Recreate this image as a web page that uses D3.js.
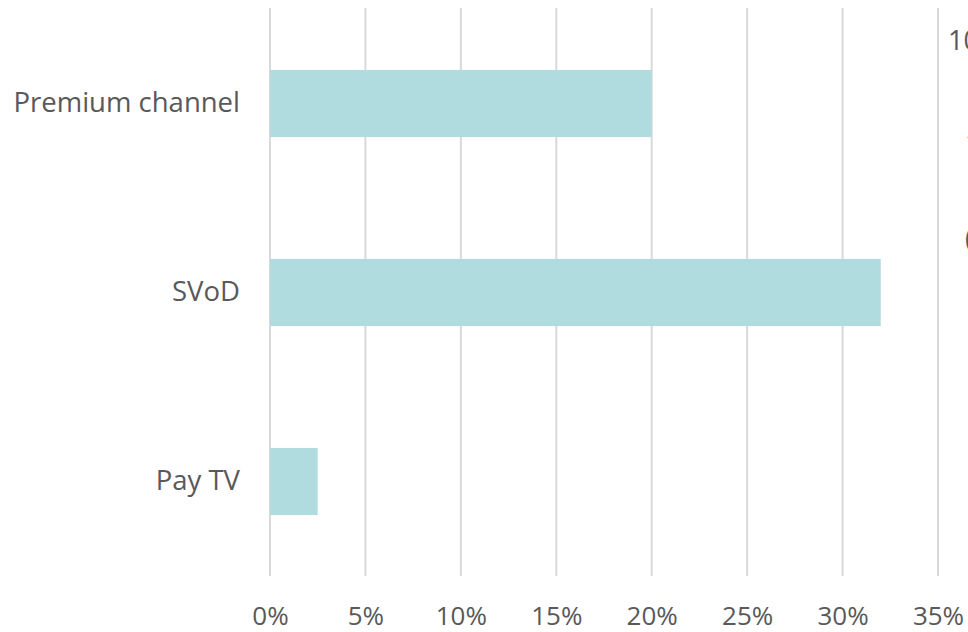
<html>
<head>
<style>
  body { margin: 0; background: #fff; }
  svg { display: block; font-family: "Open Sans", sans-serif; }
</style>
</head>
<body>
<svg></svg>
<script src="https://cdn.jsdelivr.net/npm/d3@7"></script>
<script>
const categories = ["Premium channel", "SVoD", "Pay TV"];
const values = [0.20, 0.32, 0.025];
const ticks = [0, 0.05, 0.10, 0.15, 0.20, 0.25, 0.30, 0.35];
const stray = ["10", "1", "("]; // clipped text at the right edge

const width = 968, height = 632;
const svg = d3.select("svg").attr("width", width).attr("height", height);

const x = d3.scaleLinear().domain([0, 0.35]).range([270, 938]);
const y = d3.scaleBand().domain(categories).range([9, 576]).paddingInner(0.645).paddingOuter(0.3225);

// gridlines
svg.append("g").selectAll("line").data(ticks).join("line")
  .attr("x1", d => x(d)).attr("x2", d => x(d))
  .attr("y1", 8).attr("y2", 576)
  .attr("stroke", "#d9d9d9").attr("stroke-width", 2);

// bars
svg.append("g").selectAll("rect").data(values).join("rect")
  .attr("x", x(0)).attr("y", (d, i) => y(categories[i]))
  .attr("width", d => x(d) - x(0)).attr("height", y.bandwidth())
  .attr("fill", "#b0dcdf");

// category labels
svg.append("g").selectAll("text").data(categories).join("text")
  .attr("x", 240).attr("y", d => y(d) + y.bandwidth() / 2 + 8)
  .attr("text-anchor", "end")
  .attr("font-size", 27.5).attr("fill", "#595959")
  .text(d => d);

// x axis
const xAxis = d3.axisBottom(x).tickValues(ticks).tickSize(0).tickPadding(0).tickFormat(d3.format(".0%"));
const gX = svg.append("g").attr("transform", "translate(0,0)").call(xAxis);
gX.select(".domain").remove();
gX.selectAll("text").attr("dy", null).attr("y", 625).attr("font-size", 26).attr("fill", "#595959").attr("font-family", "Open Sans");

// stray text
svg.append("text").attr("x", 948).attr("y", 50).attr("font-size", 27).attr("fill", "#595959").text(stray[0]);
svg.append("text").attr("x", 965).attr("y", 153).attr("font-size", 27).attr("fill", "#595959").text(stray[1]);
svg.append("text").attr("x", 965).attr("y", 248).attr("font-size", 27).attr("fill", "#595959").text(stray[2]);
</script>
</body>
</html>
